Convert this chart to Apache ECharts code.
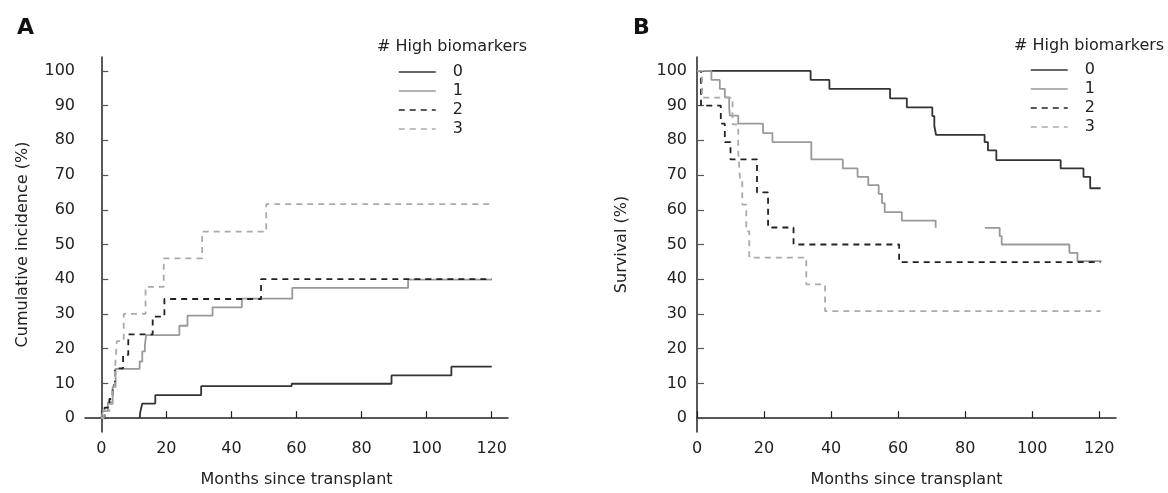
<!DOCTYPE html>
<html lang="en" style="height: 100%">
<head>
  <meta charset="UTF-8">
  <title>High biomarkers - incidence and survival</title>
</head>
<body style="height: 100%; margin: 0; background: #fff">
<div id="container" style="width: 1168px; height: 493px"></div>
<script type="text/javascript" src="https://cdn.jsdelivr.net/npm/echarts@6/dist/echarts.min.js"></script>
<script type="text/javascript">
  // legend names = number of high biomarkers
  var groups = ['0', '1', '2', '3'];

  // A: cumulative incidence (%), step points (month, value)
  var monthsA0 = [11.8, 12.0, 12.6, 16.6, 30.7, 58.5, 89.2, 107.6, 120];
  var incA0 = [0, 1.8, 4.2, 6.6, 9.2, 9.9, 12.3, 14.8, 14.8];
  var monthsA1 = [0, 0.5, 2, 3.5, 4.4, 11.8, 12.6, 13.4, 13.8, 24.0, 26.5, 34.2, 43.2, 58.7, 94.3, 120];
  var incA1 = [0, 2, 4.5, 9, 14.2, 16.3, 19.2, 21.1, 23.9, 26.6, 29.5, 31.9, 34.4, 37.5, 39.9, 39.9];
  var monthsA2 = [0.3, 1, 2.5, 3.5, 4.2, 6.7, 8.3, 15.8, 19.4, 49.1, 120];
  var incA2 = [0, 3, 5.5, 9.5, 14.3, 18.2, 24.1, 29.2, 34.3, 40.0, 40.0];
  var monthsA3 = [0, 0.8, 2.5, 3.5, 4.2, 4.8, 6.9, 13.6, 19.2, 31.0, 50.7, 120];
  var incA3 = [0, 2, 4, 8, 14, 22.2, 30.0, 37.8, 46.0, 53.7, 61.6, 61.6];

  // B: survival (%), null = gap in the curve
  var monthsB0 = [2, 33.9, 39.5, 57.6, 62.6, 70.2, 70.8, 71.3, 85.8, 86.8, 89.3, 108.5, 115.3, 117.3, 120.4];
  var survB0 = [100, 97.4, 94.8, 92.1, 89.5, 87.0, 84.2, 81.6, 79.5, 77.1, 74.3, 71.9, 69.5, 66.2, 66.2];
  var monthsB1 = [2, 4.3, 6.8, 8.3, 9.6, 9.8, 12.3, 19.7, 22.5, 34.1, 43.5, 47.9, 51.1, 54.2, 55.2, 56.0, 61.1, 71.2, 71.3, 85.9, 90.3, 90.9, 111.1, 113.5, 120.7];
  var survB1 = [100, 97.4, 94.8, 92.4, 89.5, 87.1, 84.8, 82.1, 79.5, 74.5, 71.9, 69.5, 67.1, 64.6, 61.9, 59.3, 56.9, 54.8, null, 54.8, 52.4, 50.0, 47.6, 45.2, 45.2];
  var monthsB2 = [0, 1.2, 7.1, 8.3, 10.0, 17.9, 21.2, 28.8, 60.3, 120.4];
  var survB2 = [100, 90, 84.8, 79.5, 74.5, 65.0, 54.9, 50.0, 44.9, 44.9];
  var monthsB3 = [0, 1.5, 10.6, 12.3, 12.8, 13.5, 14.7, 15.6, 32.6, 38.2, 120.4];
  var survB3 = [100, 92.3, 84.6, 76.9, 69.2, 61.5, 53.8, 46.2, 38.5, 30.8, 30.8];

  var xTicks = [0, 20, 40, 60, 80, 100, 120];
  var yTicks = [0, 10, 20, 30, 40, 50, 60, 70, 80, 90, 100];

  var FONT = 'DejaVu Sans';
  var styles = [
    { color: '#333333', type: 'solid' },
    { color: '#999999', type: 'solid' },
    { color: '#222222', type: [6, 5] },
    { color: '#aaaaaa', type: [6, 5] }
  ];

  function pairs(xs, ys) {
    return xs.map(function (x, i) { return [x, ys[i]]; });
  }

  function xAxis(grid, min) {
    return {
      type: 'value', gridIndex: grid, min: min, max: 125,
      name: 'Months since transplant', nameLocation: 'middle', nameGap: 40,
      nameTextStyle: { fontFamily: FONT, fontSize: 16, color: '#222' },
      axisLine: { show: true, lineStyle: { color: '#222', width: 1.5 } },
      axisTick: { show: true, inside: true, length: 7, customValues: xTicks, lineStyle: { color: '#222', width: 1.2 } },
      axisLabel: { customValues: xTicks, margin: 9, fontFamily: FONT, fontSize: 16, color: '#222' },
      splitLine: { show: false }
    };
  }

  function yAxis(grid, name, gap) {
    return {
      type: 'value', gridIndex: grid, min: -4, max: 104,
      name: name, nameLocation: 'middle', nameGap: gap,
      nameTextStyle: { fontFamily: FONT, fontSize: 16, color: '#222' },
      axisLine: { show: true, lineStyle: { color: '#222', width: 1.5 } },
      axisTick: { show: true, inside: true, length: 7, customValues: yTicks, lineStyle: { color: '#555', width: 1.2 } },
      axisLabel: { customValues: yTicks, margin: 10, fontFamily: FONT, fontSize: 16, color: '#222' },
      splitLine: { show: false }
    };
  }

  function legend(left, top) {
    return {
      data: groups, orient: 'vertical', left: left, top: top,
      itemWidth: 37, itemHeight: 10, itemGap: 3, padding: 0,
      itemStyle: { opacity: 0 },
      lineStyle: { width: 1.5 },
      textStyle: { fontFamily: FONT, fontSize: 16, color: '#222', lineHeight: 16, padding: [0, 0, 0, 12] }
    };
  }

  function series(name, grid, data) {
    var s = styles[groups.indexOf(name)];
    return {
      name: name, type: 'line', step: 'end', symbol: 'none',
      xAxisIndex: grid, yAxisIndex: grid, data: data,
      lineStyle: { color: s.color, width: 1.8, type: s.type },
      itemStyle: { color: s.color }
    };
  }

  var dom = document.getElementById('container');
  var myChart = echarts.init(dom, null, { renderer: 'canvas' });

  var option = {
    animation: false,
    backgroundColor: '#fff',
    title: [
      { text: 'A', left: 12, top: 12, textStyle: { fontFamily: FONT, fontSize: 22, fontWeight: 'bold', color: '#111' } },
      { text: 'B', left: 628, top: 12, textStyle: { fontFamily: FONT, fontSize: 22, fontWeight: 'bold', color: '#111' } },
      { text: '# High biomarkers', left: 377, top: 39, padding: 0, textStyle: { fontFamily: FONT, fontSize: 16, fontWeight: 'normal', color: '#222' } },
      { text: '# High biomarkers', left: 1014, top: 38, padding: 0, textStyle: { fontFamily: FONT, fontSize: 16, fontWeight: 'normal', color: '#222' } }
    ],
    legend: [legend(398, 64), legend(1030, 62)],
    grid: [
      { left: 85, right: 660, top: 57, bottom: 59 },
      { left: 697, right: 52, top: 57, bottom: 59 }
    ],
    xAxis: [xAxis(0, -5), xAxis(1, 0)],
    yAxis: [yAxis(0, 'Cumulative incidence (%)', 54), yAxis(1, 'Survival (%)', 67)],
    series: [
      series('0', 0, pairs(monthsA0, incA0)),
      series('1', 0, pairs(monthsA1, incA1)),
      series('2', 0, pairs(monthsA2, incA2)),
      series('3', 0, pairs(monthsA3, incA3)),
      series('0', 1, pairs(monthsB0, survB0)),
      series('1', 1, pairs(monthsB1, survB1)),
      series('2', 1, pairs(monthsB2, survB2)),
      series('3', 1, pairs(monthsB3, survB3))
    ]
  };

  myChart.setOption(option);
  window.addEventListener('resize', myChart.resize);
</script>
</body>
</html>
